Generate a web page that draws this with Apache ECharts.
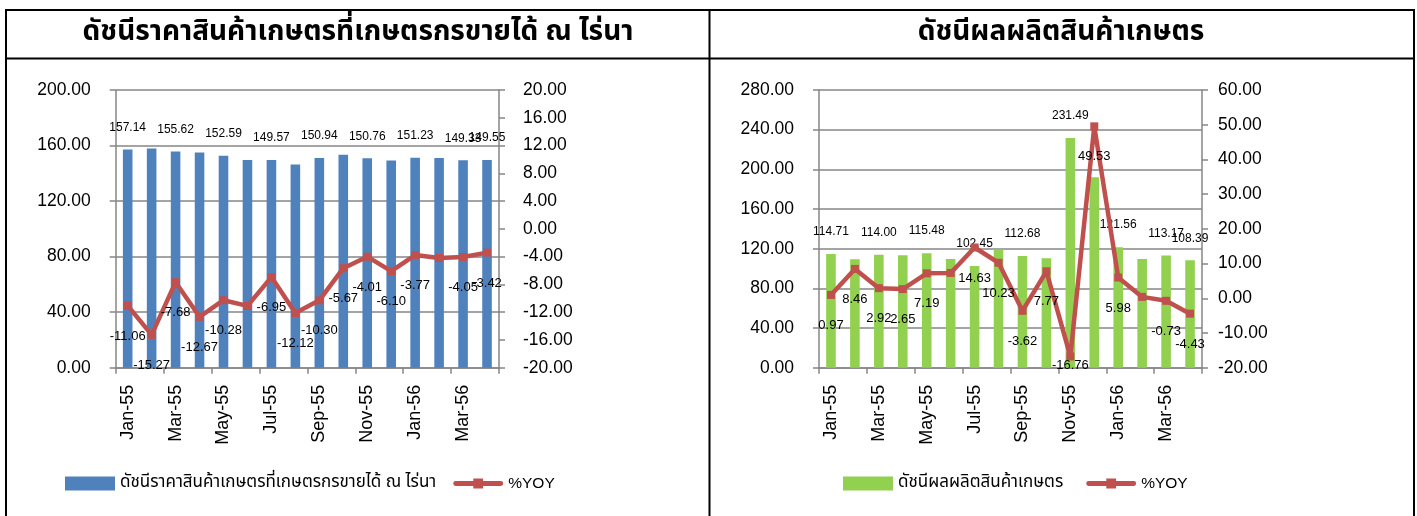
<!DOCTYPE html>
<html>
<head>
<meta charset="utf-8">
<script src="https://cdn.jsdelivr.net/npm/echarts@6/dist/echarts.min.js"></script>
<style>
  html, body { margin: 0; padding: 0; background: #fff; }
  #chart { width: 1417px; height: 516px; }
</style>
</head>
<body>
<div id="chart"></div>
<script>
const months = ["Jan-55", "Feb-55", "Mar-55", "Apr-55", "May-55", "Jun-55", "Jul-55", "Aug-55",
  "Sep-55", "Oct-55", "Nov-55", "Dec-55", "Jan-56", "Feb-56", "Mar-56", "Apr-56"];

// left panel: farm price index + %YOY
const priceTitle = "ดัชนีราคาสินค้าเกษตรที่เกษตรกรขายได้ ณ ไร่นา";
const priceIndex = [157.14, 157.9, 155.62, 154.9, 152.59, 149.6, 149.57, 146.3,
  150.94, 153.3, 150.76, 149.3, 151.23, 151.0, 149.33, 149.55];
const priceYoy = [-11.06, -15.27, -7.68, -12.67, -10.28, -11.1, -6.95, -12.12,
  -10.30, -5.67, -4.01, -6.10, -3.77, -4.2, -4.05, -3.42];

// right panel: farm production index + %YOY
const prodTitle = "ดัชนีผลผลิตสินค้าเกษตร";
const prodIndex = [114.71, 109.4, 114.00, 113.3, 115.48, 109.6, 102.45, 119.2,
  112.68, 110.4, 231.49, 192.1, 121.56, 109.7, 113.17, 108.39];
const prodYoy = [0.97, 8.46, 2.92, 2.65, 7.19, 7.3, 14.63, 10.23,
  -3.62, 7.77, -16.76, 49.53, 5.98, 0.4, -0.73, -4.43];

// which points carry a data label in the original
const barLabelIdx = [0, 2, 4, 6, 8, 10, 12, 14, 15];
const lineNoLabelIdx = [5, 13];

const FONT = "'Liberation Sans', Arial, sans-serif";
const THAI = "'Noto Sans Thai', 'Liberation Sans', sans-serif";
const GRAY = "#868686";
const RED = "#C0504D";
// excel style legend marker: thick line with a small square in the middle
const LINE_ICON = "path://M2,4.5H20V2H30V4.5H48A2.5,2.5,0,0,1,48,9.5H30V12H20V9.5H2A2.5,2.5,0,0,1,2,4.5Z";

const fmt = (v) => (typeof v === "number" ? v : v.value).toFixed(2);

function barData(values) {
  return values.map((v, i) => ({ value: v, label: { show: barLabelIdx.includes(i) } }));
}

function lineData(values, min, max) {
  return values.map((v, i) => {
    const item = { value: v, label: { show: !lineNoLabelIdx.includes(i) } };
    // excel keeps labels inside the plot area
    if ((v - min) / (max - min) < 0.1) item.label.offset = [0, -22];
    return item;
  });
}

function xAxis(gridIndex) {
  return {
    type: "category",
    gridIndex,
    data: months,
    axisLine: { lineStyle: { color: GRAY, width: 1.5 } },
    axisTick: { show: true, interval: 1, length: 6, lineStyle: { color: GRAY, width: 1.5 } },
    axisLabel: { interval: 1, rotate: 90, margin: 17, fontSize: 18, color: "#000", fontFamily: FONT },
  };
}

function yAxis(gridIndex, min, max, interval, position, margin, split) {
  return {
    type: "value",
    gridIndex,
    position,
    min,
    max,
    interval,
    axisLine: { show: true, lineStyle: { color: GRAY, width: 1.5 } },
    axisTick: { show: true, length: 6, lineStyle: { color: GRAY, width: 1.5 } },
    splitLine: { show: split, lineStyle: { color: GRAY, width: 1.5 } },
    axisLabel: { margin, fontSize: 17.5, color: "#000", fontFamily: FONT, formatter: (v) => v.toFixed(2) },
  };
}

function barSeries(name, data, xi, yi, color) {
  return {
    name,
    type: "bar",
    xAxisIndex: xi,
    yAxisIndex: yi,
    data: barData(data),
    barWidth: "40%",
    itemStyle: { color },
    label: { position: "top", distance: 16, fontSize: 12, color: "#000", fontFamily: FONT, formatter: (p) => fmt(p.value) },
  };
}

function lineSeries(data, xi, yi, min, max) {
  return {
    name: "%YOY",
    type: "line",
    xAxisIndex: xi,
    yAxisIndex: yi,
    data: lineData(data, min, max),
    symbol: "rect",
    symbolSize: 8,
    lineStyle: { width: 4.5, color: RED },
    itemStyle: { color: RED },
    label: { position: "bottom", distance: 20, fontSize: 13, color: "#000", fontFamily: FONT, formatter: (p) => fmt(p.value) },
  };
}

function legend(left, gap, barName) {
  return {
    left, top: 470, itemWidth: 50, itemHeight: 14, itemGap: gap,
    textStyle: { fontSize: 17, color: "#000", fontFamily: THAI },
    data: [{ name: barName, icon: "rect" }, { name: "%YOY", icon: LINE_ICON, textStyle: { fontFamily: FONT, fontSize: 15.5 } }],
  };
}

function frameLine(x1, y1, x2, y2) {
  return { type: "line", shape: { x1, y1, x2, y2 }, style: { stroke: "#000", lineWidth: 2 } };
}

const chart = echarts.init(document.getElementById("chart"));

chart.setOption({
  animation: false,
  grid: [
    { left: 115.7, top: 90, width: 383.3, height: 277.7 },
    { left: 819, top: 90, width: 383, height: 277.7 },
  ],
  xAxis: [xAxis(0), xAxis(1)],
  yAxis: [
    yAxis(0, 0, 200, 40, "left", 25, true),
    yAxis(0, -20, 20, 4, "right", 24, false),
    yAxis(1, 0, 280, 40, "left", 25, true),
    yAxis(1, -20, 60, 10, "right", 16, false),
  ],
  legend: [legend(60, 17, priceTitle), legend(838, 23, prodTitle)],
  series: [
    barSeries(priceTitle, priceIndex, 0, 0, "#4F81BD"),
    lineSeries(priceYoy, 0, 1, -20, 20),
    barSeries(prodTitle, prodIndex, 1, 2, "#92D050"),
    lineSeries(prodYoy, 1, 3, -20, 60),
  ],
  graphic: [
    frameLine(5, 10, 1415, 10),
    frameLine(6, 9, 6, 516),
    frameLine(1414, 9, 1414, 516),
    frameLine(709.5, 9, 709.5, 516),
    frameLine(5, 58.5, 1415, 58.5),
    {
      type: "text", x: 358, y: 34,
      style: { text: priceTitle, align: "center", verticalAlign: "middle", font: "bold 28px " + THAI, fill: "#000" },
    },
    {
      type: "text", x: 1061, y: 34,
      style: { text: prodTitle, align: "center", verticalAlign: "middle", font: "bold 28px " + THAI, fill: "#000" },
    },
  ],
});
</script>
</body>
</html>
